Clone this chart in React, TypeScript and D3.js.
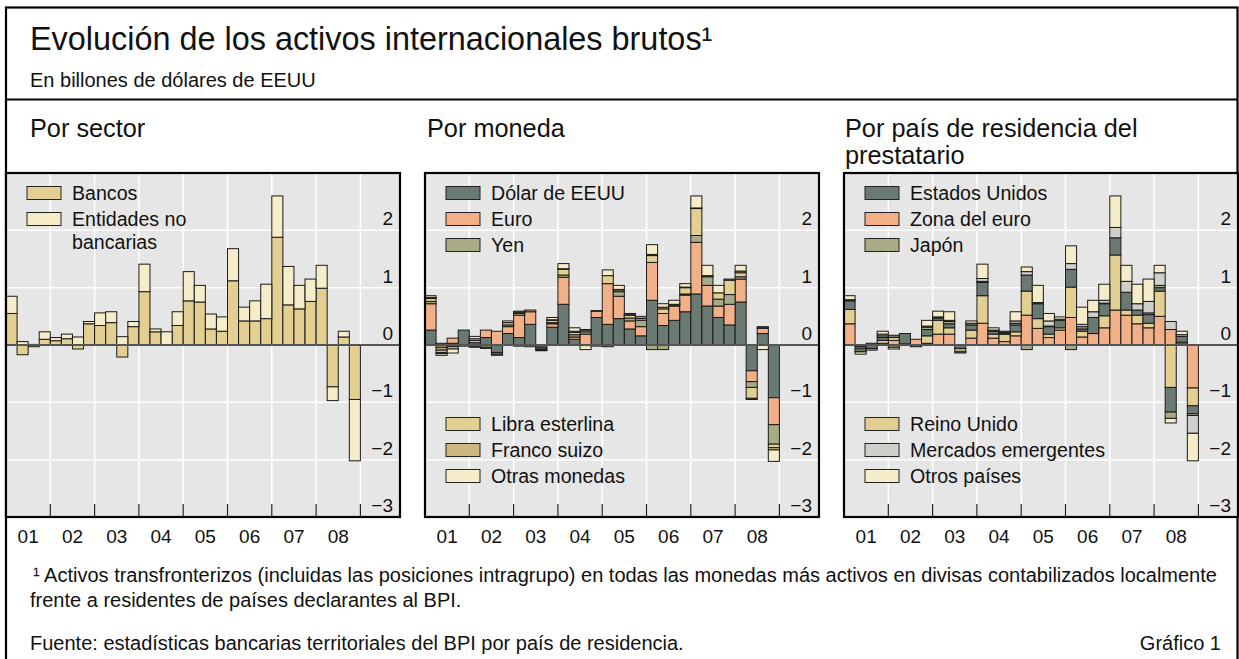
import React from "react";
import * as d3 from "d3";

// quarters 2001Q1 .. 2008Q4
const years = ["01", "02", "03", "04", "05", "06", "07", "08"];
const qNames = ["T1", "T2", "T3", "T4"];
const quarters = years.flatMap((y) => qNames.map((q) => `${y}${q}`));

// Por sector
const bancos = [0.55, -0.17, -0.03, 0.1, 0.075, 0.11, -0.07, 0.37, 0.34, 0.39, -0.21, 0.32, 0.93, 0.23, 0.0, 0.34, 0.77, 0.75, 0.28, 0.24, 1.12, 0.42, 0.42, 0.46, 1.88, 0.7, 0.63, 0.76, 0.99, -0.73, 0.14, -0.95];
const noBancarias = [0.3, 0.06, 0.01, 0.13, 0.055, 0.08, 0.14, 0.04, 0.22, 0.19, 0.145, 0.09, 0.48, 0.05, 0.23, 0.24, 0.51, 0.29, 0.26, 0.25, 0.56, 0.24, 0.35, 0.6, 0.72, 0.67, 0.41, 0.39, 0.4, -0.24, 0.1, -1.07];

// Por moneda
const dolar = [0.26, 0.03, 0.03, 0.26, 0.04, 0.13, -0.13, 0.2, 0.13, 0.36, -0.04, 0.31, 0.71, 0.1, -0.01, 0.48, 0.36, 0.46, 0.28, 0.16, 0.78, 0.34, 0.43, 0.58, 0.89, 0.68, 0.48, 0.35, 0.75, -0.45, 0.2, -0.92];
const euro = [0.46, -0.04, 0.09, 0.0, 0.04, 0.13, 0.24, 0.12, 0.39, 0.22, -0.03, 0.06, 0.47, 0.04, 0.19, 0.11, 0.71, 0.39, 0.14, 0.16, 0.66, 0.21, 0.25, 0.29, 0.9, 0.36, 0.2, 0.36, 0.4, -0.19, 0.09, -0.47];
const yen = [0.04, -0.05, -0.03, -0.01, -0.02, -0.04, -0.03, 0.03, 0.03, 0.0, -0.01, 0.02, 0.04, 0.04, 0.04, 0.0, -0.03, 0.08, 0.05, 0.11, -0.08, -0.08, 0.02, 0.02, 0.12, 0.15, 0.12, 0.17, 0.04, -0.1, 0.0, -0.34];
const libra = [0.05, -0.04, -0.04, 0.0, 0.03, 0.0, 0.0, 0.04, 0.02, 0.0, -0.01, 0.04, 0.1, 0.04, 0.03, 0.0, 0.14, 0.03, 0.05, 0.03, 0.12, 0.08, 0.0, 0.11, 0.47, 0.0, 0.11, 0.25, 0.07, -0.19, 0.01, -0.06];
const franco = [0.02, -0.02, 0.0, 0.0, -0.02, -0.02, 0.0, 0.0, -0.02, 0.03, -0.01, 0.01, 0.01, 0.02, 0.01, 0.01, 0.0, 0.01, 0.01, 0.01, 0.02, 0.03, 0.01, 0.01, 0.01, 0.02, 0.0, 0.0, 0.03, -0.02, 0.02, -0.04];
const otrasMonedas = [0.03, -0.03, -0.07, -0.01, 0.04, 0.0, -0.02, 0.03, 0.02, -0.03, 0.0, 0.04, 0.09, 0.06, -0.07, -0.02, 0.1, 0.07, 0.02, 0.03, 0.17, 0.06, 0.07, 0.06, 0.21, 0.18, 0.13, 0.02, 0.1, 0.0, -0.08, -0.2];

// Por país de residencia del prestatario
const eeuu = [0.15, -0.04, -0.06, 0.05, 0.04, 0.18, -0.03, 0.11, 0.04, 0.07, -0.06, 0.09, 0.23, 0.05, 0.02, 0.12, 0.28, 0.26, 0.13, 0.13, 0.31, 0.04, 0.28, 0.21, 0.3, 0.31, 0.09, 0.15, 0.06, -0.43, 0.1, -0.14];
const zonaEuro = [0.37, 0.0, 0.01, 0.03, 0.08, 0.02, 0.1, 0.03, 0.19, 0.19, 0.0, 0.12, 0.38, 0.12, 0.06, 0.16, 0.52, 0.29, 0.13, 0.26, 0.48, 0.14, 0.2, 0.3, 0.61, 0.52, 0.37, 0.3, 0.5, 0.27, 0.02, -0.75];
const japon = [0.02, -0.04, -0.03, 0.03, -0.04, 0.0, 0.0, 0.04, 0.02, 0.04, -0.06, 0.03, 0.02, 0.02, 0.01, 0.03, -0.08, 0.02, 0.01, 0.02, -0.08, 0.04, 0.0, 0.01, 0.0, 0.0, 0.0, 0.03, 0.04, -0.11, 0.0, -0.03];
const reinoUnido = [0.25, -0.03, 0.02, 0.05, 0.05, 0.0, 0.0, 0.13, 0.24, 0.11, 0.0, 0.14, 0.48, 0.07, 0.13, 0.07, 0.42, 0.17, 0.06, 0.04, 0.53, 0.1, 0.0, 0.21, 0.96, 0.09, 0.15, 0.08, 0.44, -0.74, 0.03, -0.31];
const emergentes = [0.0, -0.01, 0.0, 0.03, 0.0, 0.0, 0.0, 0.02, 0.0, 0.02, 0.0, 0.0, 0.05, 0.0, 0.0, 0.04, 0.06, 0.0, 0.09, 0.0, 0.1, 0.04, 0.1, 0.05, 0.18, 0.19, 0.11, 0.2, 0.22, 0.14, 0.03, -0.31];
const otrosPaises = [0.07, -0.04, 0.0, 0.05, -0.03, 0.0, 0.0, 0.1, 0.1, 0.15, -0.02, 0.04, 0.25, 0.04, 0.02, 0.16, 0.08, 0.3, 0.13, 0.04, 0.31, 0.3, 0.2, 0.28, 0.55, 0.28, 0.34, 0.39, 0.13, -0.08, 0.06, -0.48];

const yTicks = [2, 1, 0, -1, -2, -3];
const yGrid = [2, 1, -1, -2];

const C = {
  dark: "#6a7a72",
  salmon: "#f1b088",
  olive: "#a9aa86",
  tan: "#e3cf92",
  tanDark: "#cdb680",
  cream: "#f5ecc9",
  grey: "#cfcfcc",
};

const FONT = "'Liberation Sans', Arial, Helvetica, sans-serif";
const W = 1239;
const H = 659;
const PANEL_W = 394;
const TOP = 173;
const BOTTOM = 517;
const YEAR_W = 44.3;

type Series = { key: string; label: string[]; values: number[]; color: string };

const sectorSeries: Series[] = [
  { key: "bancos", label: ["Bancos"], values: bancos, color: C.tan },
  { key: "nob", label: ["Entidades no", "bancarias"], values: noBancarias, color: C.cream },
];

const monedaSeries: Series[] = [
  { key: "usd", label: ["Dólar de EEUU"], values: dolar, color: C.dark },
  { key: "eur", label: ["Euro"], values: euro, color: C.salmon },
  { key: "jpy", label: ["Yen"], values: yen, color: C.olive },
  { key: "gbp", label: ["Libra esterlina"], values: libra, color: C.tan },
  { key: "chf", label: ["Franco suizo"], values: franco, color: C.tanDark },
  { key: "oth", label: ["Otras monedas"], values: otrasMonedas, color: C.cream },
];

const paisSeries: Series[] = [
  { key: "us", label: ["Estados Unidos"], values: eeuu, color: C.dark },
  { key: "ez", label: ["Zona del euro"], values: zonaEuro, color: C.salmon },
  { key: "jp", label: ["Japón"], values: japon, color: C.olive },
  { key: "uk", label: ["Reino Unido"], values: reinoUnido, color: C.tan },
  { key: "em", label: ["Mercados emergentes"], values: emergentes, color: C.grey },
  { key: "ot", label: ["Otros países"], values: otrosPaises, color: C.cream },
];

function Legend({ items, x, y }: { items: Series[]; x: number; y: number }) {
  let row = y;
  return (
    <g>
      {items.map((s) => {
        const cy = row;
        row += 26 + (s.label.length - 1) * 23;
        return (
          <g key={s.key}>
            <rect x={x} y={cy - 6.5} width={34} height={13} fill={s.color} stroke="#222" strokeWidth={1} />
            {s.label.map((l, i) => (
              <text key={i} x={x + 45} y={cy + 7 + i * 23} fontSize={19.6} fontFamily={FONT} fill="#111">
                {l}
              </text>
            ))}
          </g>
        );
      })}
    </g>
  );
}

function Panel({ left, series, order, legends }: { left: number; series: Series[]; order: string[]; legends: { items: Series[]; y: number }[] }) {
  const right = left + PANEL_W;
  const x = d3.scaleBand().domain(quarters).range([left, left + YEAR_W * 8]).padding(0);
  const y = d3.scaleLinear().domain([-3, 3]).range([BOTTOM, TOP]);
  const rows = quarters.map((q, i) => {
    const r: Record<string, any> = { q };
    series.forEach((s) => (r[s.key] = s.values[i]));
    return r;
  });
  const stacked = d3.stack<any>().keys(order).offset(d3.stackOffsetDiverging)(rows);
  const colorOf = (k: string) => series.find((s) => s.key === k)!.color;
  const fmt = d3.format("d");
  const yearEdges = d3.range(1, 9).map((k) => left + YEAR_W * k);

  return (
    <g>
      <rect x={left} y={TOP} width={PANEL_W} height={BOTTOM - TOP} fill="#e6e6e6" />
      {yGrid.map((v) => (
        <line key={v} x1={left} x2={right} y1={y(v)} y2={y(v)} stroke="#fff" strokeWidth={1.5} />
      ))}
      {yearEdges.map((gx) => (
        <line key={gx} x1={gx} x2={gx} y1={TOP} y2={BOTTOM} stroke="#fff" strokeWidth={1.5} />
      ))}
      {stacked.map((layer) =>
        layer.map((d, i) => {
          const h = y(d[0]) - y(d[1]);
          if (Math.abs(h) < 0.01) return null;
          return (
            <rect
              key={layer.key + i}
              x={x(quarters[i])}
              y={y(d[1])}
              width={x.bandwidth()}
              height={h}
              fill={colorOf(layer.key)}
              stroke="#1a1a1a"
              strokeWidth={1}
            />
          );
        })
      )}
      <line x1={left} x2={right} y1={y(0)} y2={y(0)} stroke="#555" strokeWidth={1.8} />
      {yTicks.map((v) => (
        <text key={v} x={right - 7} y={y(v) - 5} textAnchor="end" fontSize={19} fontFamily={FONT} fill="#111">
          {fmt(v)}
        </text>
      ))}
      {yearEdges.map((gx) => (
        <line key={"t" + gx} x1={gx} x2={gx} y1={BOTTOM} y2={BOTTOM - 13} stroke="#222" strokeWidth={1.2} />
      ))}
      {legends.map((lg, i) => (
        <Legend key={i} items={lg.items} x={left + 21} y={lg.y} />
      ))}
      <rect x={left} y={TOP} width={PANEL_W} height={BOTTOM - TOP} fill="none" stroke="#000" strokeWidth={2.2} />
      {years.map((yr, i) => (
        <text key={yr} x={left + YEAR_W * (i + 0.5)} y={543} textAnchor="middle" fontSize={19} fontFamily={FONT} fill="#111">
          {yr}
        </text>
      ))}
    </g>
  );
}

export default function App() {
  const lefts = [6, 425, 844];
  return (
    <svg width={W} height={H} style={{ position: "absolute", left: 0, top: 0, background: "#fff" }}>
      <rect x={6} y={7.5} width={1231.5} height={700} fill="none" stroke="#000" strokeWidth={2.2} />
      <line x1={6} x2={1238} y1={99.5} y2={99.5} stroke="#000" strokeWidth={2.2} />
      <text x={30} y={50} fontSize={32.4} fontFamily={FONT} fill="#111">
        Evolución de los activos internacionales brutos¹
      </text>
      <text x={30} y={87} fontSize={20} fontFamily={FONT} fill="#111">
        En billones de dólares de EEUU
      </text>
      <text x={30} y={137} fontSize={25.3} fontFamily={FONT} fill="#111">Por sector</text>
      <text x={427} y={137} fontSize={25.3} fontFamily={FONT} fill="#111">Por moneda</text>
      <text x={845} y={137} fontSize={25.3} fontFamily={FONT} fill="#111">Por país de residencia del</text>
      <text x={845} y={164} fontSize={25.3} fontFamily={FONT} fill="#111">prestatario</text>

      <Panel left={lefts[0]} series={sectorSeries} order={["bancos", "nob"]} legends={[{ items: sectorSeries, y: 193 }]} />
      <Panel
        left={lefts[1]}
        series={monedaSeries}
        order={["usd", "eur", "jpy", "gbp", "chf", "oth"]}
        legends={[
          { items: monedaSeries.slice(0, 3), y: 193 },
          { items: monedaSeries.slice(3), y: 424 },
        ]}
      />
      <Panel
        left={lefts[2]}
        series={paisSeries}
        order={["ez", "uk", "us", "jp", "em", "ot"]}
        legends={[
          { items: paisSeries.slice(0, 3), y: 193 },
          { items: paisSeries.slice(3), y: 424 },
        ]}
      />

      <text x={33} y={582} fontSize={20} fontFamily={FONT} fill="#111">
        ¹  Activos transfronterizos (incluidas las posiciones intragrupo) en todas las monedas más activos en divisas contabilizados localmente
      </text>
      <text x={30} y={607} fontSize={20} fontFamily={FONT} fill="#111">
        frente a residentes de países declarantes al BPI.
      </text>
      <text x={30} y={650} fontSize={20} fontFamily={FONT} fill="#111">
        Fuente: estadísticas bancarias territoriales del BPI por país de residencia.
      </text>
      <text x={1221} y={650} textAnchor="end" fontSize={20} fontFamily={FONT} fill="#111">
        Gráfico 1
      </text>
    </svg>
  );
}
